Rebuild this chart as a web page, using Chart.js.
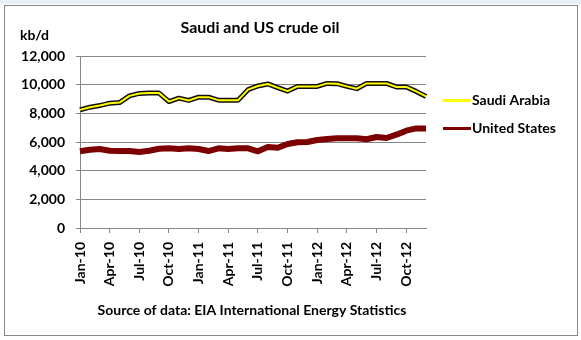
<!doctype html>
<html lang="en">
<head>
<meta charset="utf-8">
<title>Saudi and US crude oil</title>
<style>
  * { margin: 0; padding: 0; }
  body { background: #fff; }
  #chart { display: block; }
</style>
</head>
<body>
<canvas id="chart" width="581" height="340"></canvas>
<script src="https://cdn.jsdelivr.net/npm/chart.js/dist/chart.umd.min.js"></script>
<script>
// data, kb/d, monthly
const months = [
  'Jan-10', 'Feb-10', 'Mar-10', 'Apr-10', 'May-10', 'Jun-10', 'Jul-10', 'Aug-10', 'Sep-10', 'Oct-10', 'Nov-10', 'Dec-10',
  'Jan-11', 'Feb-11', 'Mar-11', 'Apr-11', 'May-11', 'Jun-11', 'Jul-11', 'Aug-11', 'Sep-11', 'Oct-11', 'Nov-11', 'Dec-11',
  'Jan-12', 'Feb-12', 'Mar-12', 'Apr-12', 'May-12', 'Jun-12', 'Jul-12', 'Aug-12', 'Sep-12', 'Oct-12', 'Nov-12', 'Dec-12'
];
const saudi = [
  8240, 8430, 8540, 8710, 8750, 9220, 9390, 9410, 9410, 8820, 9060, 8900,
  9130, 9130, 8920, 8920, 8920, 9650, 9910, 10050, 9790, 9550, 9880, 9880,
  9880, 10090, 10070, 9880, 9720, 10090, 10090, 10090, 9840, 9840, 9530, 9180
];
const usa = [
  5350, 5460, 5510, 5390, 5370, 5370, 5300, 5390, 5530, 5560, 5510, 5560,
  5510, 5370, 5560, 5510, 5560, 5560, 5350, 5650, 5600, 5860, 5980, 6000,
  6140, 6210, 6260, 6260, 6260, 6190, 6350, 6280, 6510, 6790, 6950, 6950
];
const seriesNames = ['Saudi Arabia', 'United States'];

const FONT = 'Lato, "Open Sans", sans-serif';
const GRID = '#868686';
const US_RED = '#7d0000';

// background + outer frame
const frame = {
  id: 'frame',
  beforeDraw(chart) {
    const { ctx, width, height } = chart;
    ctx.save();
    ctx.fillStyle = '#fff';
    ctx.fillRect(0, 0, width, height);
    ctx.fillStyle = '#eaf0f8';
    ctx.fillRect(0, 0, width, 4);
    ctx.strokeStyle = '#878787';
    ctx.lineWidth = 1;
    ctx.strokeRect(4.5, 5.5, 573, 330);
    ctx.restore();
  }
};

// title, unit, source and legend
const texts = {
  id: 'texts',
  afterDraw(chart) {
    const { ctx } = chart;
    ctx.save();
    ctx.fillStyle = '#000';
    ctx.textBaseline = 'middle';

    ctx.font = 'bold 16px ' + FONT;
    ctx.textAlign = 'center';
    ctx.fillText('Saudi and US crude oil', 260, 28);

    ctx.font = 'bold 14px ' + FONT;
    ctx.textAlign = 'left';
    ctx.fillText('kb/d', 20, 35);

    ctx.font = 'bold 14px ' + FONT;
    ctx.textAlign = 'center';
    ctx.fillText('Source of data: EIA International Energy Statistics', 252, 310);

    // legend
    const rows = [
      { name: seriesNames[0], color: '#ffff00', w: 3, y: 100.5 },
      { name: seriesNames[1], color: US_RED, w: 3, y: 128.5 }
    ];
    ctx.textAlign = 'left';
    ctx.font = 'bold 14px ' + FONT;
    rows.forEach(r => {
      ctx.beginPath();
      ctx.strokeStyle = r.color;
      ctx.lineWidth = r.w;
      ctx.moveTo(443, r.y);
      ctx.lineTo(471, r.y);
      ctx.stroke();
      ctx.fillStyle = '#000';
      ctx.fillText(r.name, 472, r.y);
    });
    ctx.restore();
  }
};

const config = {
  type: 'line',
  data: {
    labels: months,
    datasets: [
      {
        label: seriesNames[0],
        data: saudi,
        borderColor: '#ffff00',
        borderWidth: 2,
        order: 0
      },
      {
        label: seriesNames[0] + ' outline',
        data: saudi,
        borderColor: '#111',
        borderWidth: 5,
        order: 1
      },
      {
        label: seriesNames[1],
        data: usa,
        borderColor: US_RED,
        borderWidth: 6,
        order: 2
      }
    ]
  },
  options: {
    responsive: false,
    animation: false,
    devicePixelRatio: 1,
    elements: {
      point: { radius: 0 },
      line: { tension: 0, borderJoinStyle: 'round', borderCapStyle: 'butt' }
    },
    layout: {
      padding: { left: 0, right: 155, top: 56, bottom: 0 }
    },
    scales: {
      x: {
        offset: false,
        grid: {
          drawOnChartArea: false,
          tickLength: 5,
          color: c => (c.index % 3 === 0 ? GRID : 'rgba(0,0,0,0)')
        },
        border: { color: GRID },
        ticks: {
          autoSkip: false,
          minRotation: 90,
          maxRotation: 90,
          padding: 9,
          color: '#000',
          font: { family: FONT, size: 14, weight: 'bold' },
          callback: (v, i) => (i % 3 === 0 ? months[i] : '')
        },
        afterFit: s => { s.height = 112; }
      },
      y: {
        min: 0,
        max: 12000,
        grid: { color: GRID, tickLength: 4 },
        border: { color: GRID },
        ticks: {
          stepSize: 2000,
          padding: 11,
          color: '#000',
          font: { family: FONT, size: 14, weight: 'bold' },
          callback: v => v.toLocaleString('en-US')
        },
        afterFit: s => { s.width = 80; }
      }
    },
    plugins: {
      legend: { display: false },
      tooltip: { enabled: false }
    }
  },
  plugins: [frame, texts]
};

const myChart = new Chart(document.getElementById('chart'), config);
</script>
</body>
</html>
